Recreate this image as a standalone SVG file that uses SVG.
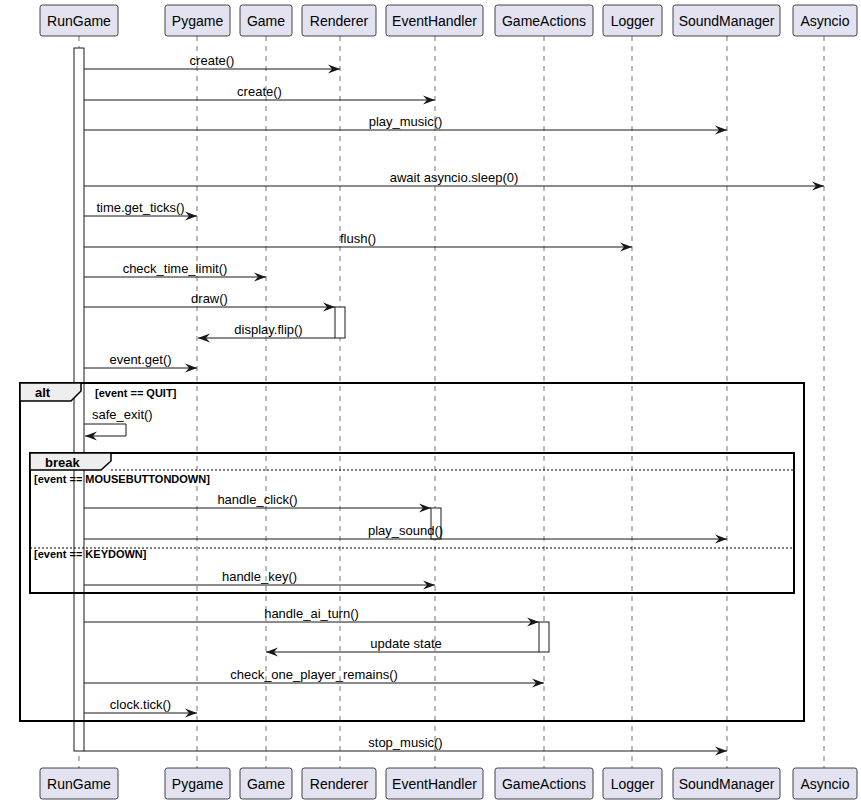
<svg xmlns="http://www.w3.org/2000/svg" width="861" height="804" viewBox="0 0 861 804">
<style>
.pbox{fill:#E2E2F0;stroke:#181818;stroke-width:0.8}
.pname{font-family:"Liberation Sans",Arial,sans-serif;font-size:14px;fill:#000;text-anchor:middle}
.life{stroke:#181818;stroke-width:0.6;stroke-dasharray:5,5;fill:none}
.act{fill:#FFFFFF;stroke:#181818;stroke-width:1}
.msg{stroke:#181818;stroke-width:1;fill:none;marker-end:url(#ah)}
.mlabel{font-family:"Liberation Sans",Arial,sans-serif;font-size:13px;fill:#000;text-anchor:middle}
.frame{fill:none;stroke:#000;stroke-width:2}
.tab{fill:#EEEEEE;stroke:#000;stroke-width:1.5}
.ftitle{font-family:"Liberation Sans",Arial,sans-serif;font-size:13px;font-weight:bold;fill:#000}
.cond{font-family:"Liberation Sans",Arial,sans-serif;font-size:11px;font-weight:bold;fill:#000}
.sep{stroke:#000;stroke-width:1;stroke-dasharray:2,2}
</style>
<defs>
<marker id="ah" markerUnits="userSpaceOnUse" markerWidth="13" markerHeight="10" refX="12" refY="4.5" orient="auto" overflow="visible">
<path d="M0,0 L12,4.5 L0,9 L4,4.5 Z" fill="#181818"/>
</marker>
</defs>

<g id="lifelines">
<line class="life" x1="79" y1="36" x2="79" y2="768"/>
<line class="life" x1="197" y1="36" x2="197" y2="768"/>
<line class="life" x1="266" y1="36" x2="266" y2="768"/>
<line class="life" x1="340" y1="36" x2="340" y2="768"/>
<line class="life" x1="435" y1="36" x2="435" y2="768"/>
<line class="life" x1="544" y1="36" x2="544" y2="768"/>
<line class="life" x1="632" y1="36" x2="632" y2="768"/>
<line class="life" x1="727" y1="36" x2="727" y2="768"/>
<line class="life" x1="824" y1="36" x2="824" y2="768"/>
</g>

<g id="p-RunGame">
<rect class="pbox" x="40" y="5" width="78" height="31" rx="2.5"/>
<text class="pname" x="79" y="26">RunGame</text>
<rect class="pbox" x="40" y="768" width="78" height="31" rx="2.5"/>
<text class="pname" x="79" y="789">RunGame</text>
</g>
<g id="p-Pygame">
<rect class="pbox" x="165" y="5" width="65" height="31" rx="2.5"/>
<text class="pname" x="197.5" y="26">Pygame</text>
<rect class="pbox" x="165" y="768" width="65" height="31" rx="2.5"/>
<text class="pname" x="197.5" y="789">Pygame</text>
</g>
<g id="p-Game">
<rect class="pbox" x="240" y="5" width="52" height="31" rx="2.5"/>
<text class="pname" x="266" y="26">Game</text>
<rect class="pbox" x="240" y="768" width="52" height="31" rx="2.5"/>
<text class="pname" x="266" y="789">Game</text>
</g>
<g id="p-Renderer">
<rect class="pbox" x="302" y="5" width="74" height="31" rx="2.5"/>
<text class="pname" x="339" y="26">Renderer</text>
<rect class="pbox" x="302" y="768" width="74" height="31" rx="2.5"/>
<text class="pname" x="339" y="789">Renderer</text>
</g>
<g id="p-EventHandler">
<rect class="pbox" x="386" y="5" width="97" height="31" rx="2.5"/>
<text class="pname" x="434.5" y="26">EventHandler</text>
<rect class="pbox" x="386" y="768" width="97" height="31" rx="2.5"/>
<text class="pname" x="434.5" y="789">EventHandler</text>
</g>
<g id="p-GameActions">
<rect class="pbox" x="495" y="5" width="98" height="31" rx="2.5"/>
<text class="pname" x="544" y="26">GameActions</text>
<rect class="pbox" x="495" y="768" width="98" height="31" rx="2.5"/>
<text class="pname" x="544" y="789">GameActions</text>
</g>
<g id="p-Logger">
<rect class="pbox" x="603" y="5" width="59" height="31" rx="2.5"/>
<text class="pname" x="632.5" y="26">Logger</text>
<rect class="pbox" x="603" y="768" width="59" height="31" rx="2.5"/>
<text class="pname" x="632.5" y="789">Logger</text>
</g>
<g id="p-SoundManager">
<rect class="pbox" x="673" y="5" width="107" height="31" rx="2.5"/>
<text class="pname" x="726.5" y="26">SoundManager</text>
<rect class="pbox" x="673" y="768" width="107" height="31" rx="2.5"/>
<text class="pname" x="726.5" y="789">SoundManager</text>
</g>
<g id="p-Asyncio">
<rect class="pbox" x="793" y="5" width="64" height="31" rx="2.5"/>
<text class="pname" x="825" y="26">Asyncio</text>
<rect class="pbox" x="793" y="768" width="64" height="31" rx="2.5"/>
<text class="pname" x="825" y="789">Asyncio</text>
</g>

<g id="activations">
<rect class="act" x="74" y="48" width="10" height="703"/>
<rect class="act" x="335" y="307" width="10" height="31"/>
<rect class="act" x="431" y="508" width="10" height="31"/>
<rect class="act" x="539" y="622" width="10" height="30"/>
</g>

<g id="frames">
<g id="alt">
<rect class="frame" x="20" y="383" width="784" height="338"/>
<path class="tab" d="M20,383 H81 V391 L71,401 H20 Z"/>
<text class="ftitle" x="35" y="397">alt</text>
<text class="cond" x="95" y="397">[event == QUIT]</text>
</g>
<g id="break">
<rect class="frame" x="30" y="453" width="764" height="140"/>
<path class="tab" d="M30,453 H111 V461 L101,470 H30 Z"/>
<text class="ftitle" x="45" y="467">break</text>
<line class="sep" x1="111" y1="470" x2="794" y2="470"/>
<text class="cond" x="34" y="483">[event == MOUSEBUTTONDOWN]</text>
<line class="sep" x1="30" y1="548" x2="794" y2="548"/>
<text class="cond" x="34" y="558">[event == KEYDOWN]</text>
</g>
</g>

<g id="connectors">
<line class="msg" x1="84" y1="69" x2="340" y2="69"/>
<text class="mlabel" x="212" y="65">create()</text>
<line class="msg" x1="84" y1="100" x2="435" y2="100"/>
<text class="mlabel" x="259.5" y="96">create()</text>
<line class="msg" x1="84" y1="130" x2="727" y2="130"/>
<text class="mlabel" x="405.5" y="126">play_music()</text>
<line class="msg" x1="84" y1="186" x2="824" y2="186"/>
<text class="mlabel" x="454" y="182">await asyncio.sleep(0)</text>
<line class="msg" x1="84" y1="216" x2="197" y2="216"/>
<text class="mlabel" x="140.5" y="212">time.get_ticks()</text>
<line class="msg" x1="84" y1="247" x2="632" y2="247"/>
<text class="mlabel" x="358" y="243">flush()</text>
<line class="msg" x1="84" y1="277" x2="266" y2="277"/>
<text class="mlabel" x="175" y="273">check_time_limit()</text>
<line class="msg" x1="84" y1="307" x2="335" y2="307"/>
<text class="mlabel" x="209.5" y="303">draw()</text>
<line class="msg" x1="335" y1="338" x2="198" y2="338"/>
<text class="mlabel" x="268.5" y="334">display.flip()</text>
<line class="msg" x1="84" y1="368" x2="197" y2="368"/>
<text class="mlabel" x="140.5" y="364">event.get()</text>
<path class="msg" d="M84,424 H126 V436 H85"/>
<text class="mlabel" x="92" y="419" style="text-anchor:start">safe_exit()</text>
<line class="msg" x1="84" y1="508" x2="431" y2="508"/>
<text class="mlabel" x="257.5" y="504">handle_click()</text>
<line class="msg" x1="84" y1="539" x2="727" y2="539"/>
<text class="mlabel" x="405.5" y="535">play_sound()</text>
<line class="msg" x1="84" y1="585" x2="435" y2="585"/>
<text class="mlabel" x="259.5" y="581">handle_key()</text>
<line class="msg" x1="84" y1="622" x2="539" y2="622"/>
<text class="mlabel" x="311.5" y="618">handle_ai_turn()</text>
<line class="msg" x1="539" y1="652" x2="266" y2="652"/>
<text class="mlabel" x="406" y="648">update state</text>
<line class="msg" x1="84" y1="683" x2="544" y2="683"/>
<text class="mlabel" x="314" y="679">check_one_player_remains()</text>
<line class="msg" x1="84" y1="713" x2="197" y2="713"/>
<text class="mlabel" x="140.5" y="709">clock.tick()</text>
<line class="msg" x1="84" y1="751" x2="727" y2="751"/>
<text class="mlabel" x="405.5" y="747">stop_music()</text>
</g>
</svg>
